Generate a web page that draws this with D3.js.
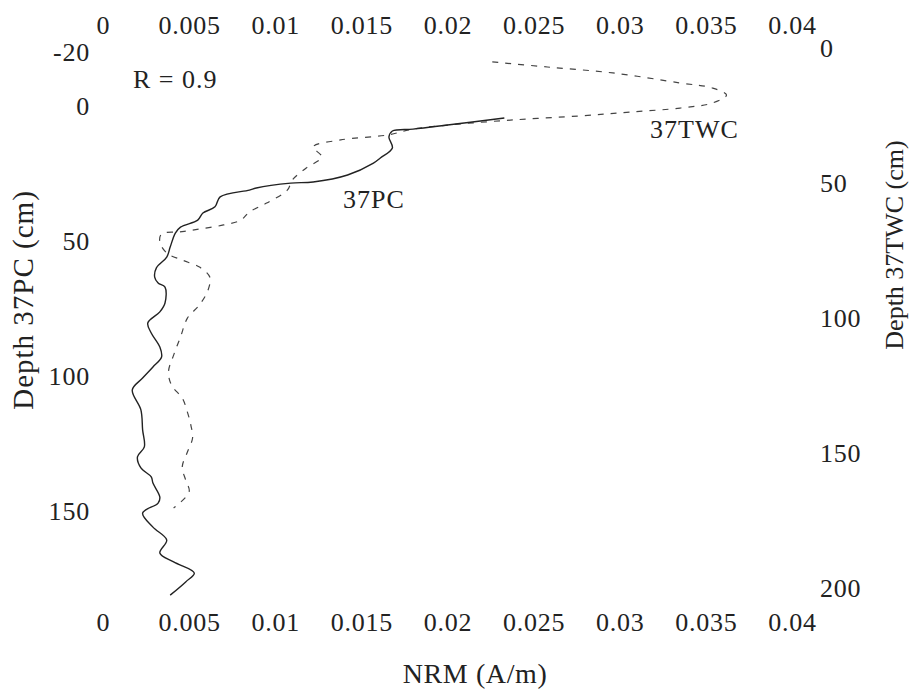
<!DOCTYPE html>
<html>
<head>
<meta charset="utf-8">
<script src="https://cdn.jsdelivr.net/npm/d3@7/dist/d3.min.js"></script>
<style>
  body { margin: 0; background: #fff; }
  svg { display: block; }
  text { font-family: "Liberation Serif", "Times New Roman", serif; fill: #222; }
</style>
</head>
<body>
<svg></svg>
<script>
var svg_width = 911;
var svg_height = 693;

// NRM (A/m) tick values, shared by the top and bottom axes
var nrm_ticks = [0, 0.005, 0.01, 0.015, 0.02, 0.025, 0.03, 0.035, 0.04];
var pc_depth_ticks = [-20, 0, 50, 100, 150];
var twc_depth_ticks = [0, 50, 100, 150, 200];

// 37PC core (solid line), depth on the left axis
var pc_depth = [5.2, 7.8, 9.3, 10.0, 12.2, 16.3, 20.0, 21.9, 26.3, 28.9, 29.3, 31.1, 31.9,
  34.4, 38.1, 40.4, 43.0, 45.6, 47.8, 53.0, 56.7, 60.7, 64.1, 66.3, 67.8, 73.7, 77.0,
  81.1, 84.8, 90.0, 93.7, 97.4, 101.5, 105.9, 113.3, 120.7, 127.0, 130.7, 134.8, 138.1,
  140.4, 145.6, 147.8, 151.5, 156.7, 161.5, 166.3, 169.6, 173.7, 177.0, 181.9];
var pc_nrm = [0.0233, 0.0200, 0.0180, 0.0168, 0.0166, 0.0168, 0.0161, 0.0157, 0.0142,
  0.0122, 0.0109, 0.0089, 0.0085, 0.0068, 0.0065, 0.0058, 0.0055, 0.0045, 0.0042,
  0.0039, 0.0037, 0.0031, 0.0030, 0.0032, 0.0036, 0.0036, 0.0033, 0.0026, 0.0028,
  0.0033, 0.0034, 0.0029, 0.0023, 0.0017, 0.0022, 0.0023, 0.0024, 0.0020, 0.0022,
  0.0028, 0.0029, 0.0033, 0.0032, 0.0023, 0.0029, 0.0037, 0.0033, 0.0041, 0.0053,
  0.0048, 0.0039];

// 37TWC core (dashed line), depth on the right axis
var twc_depth = [4.4, 6.3, 8.5, 12.2, 14.1, 16.7, 19.6, 21.5, 23.0, 24.4, 25.9, 27.8,
  29.3, 31.5, 33.3, 35.9, 39.6, 43.7, 48.1, 51.9, 56.7, 60.0, 63.0, 64.8, 66.7, 67.4,
  68.1, 71.1, 75.2, 77.8, 80.4, 84.1, 88.9, 94.4, 99.3, 106.3, 113.0, 119.3, 124.4,
  128.9, 134.1, 138.9, 143.7, 148.9, 154.4, 159.3, 163.7, 169.6];
var twc_nrm = [0.0226, 0.0258, 0.0296, 0.0335, 0.0354, 0.0362, 0.0354, 0.0335, 0.0306,
  0.0277, 0.0238, 0.0200, 0.0180, 0.0165, 0.0138, 0.0122, 0.0127, 0.0118, 0.0110,
  0.0107, 0.0095, 0.0085, 0.0080, 0.0070, 0.0052, 0.0044, 0.0034, 0.0033, 0.0037,
  0.0046, 0.0056, 0.0062, 0.0061, 0.0056, 0.0049, 0.0045, 0.0041, 0.0038, 0.0040,
  0.0046, 0.0049, 0.0051, 0.0052, 0.0049, 0.0046, 0.0048, 0.0050, 0.0041];

var plot_left = 103, plot_right = 792, plot_top = 50, plot_bottom = 590;

var xScale = d3.scaleLinear().domain([0, 0.04]).range([plot_left, plot_right]);
var yLeft = d3.scaleLinear().domain([-20, 180]).range([plot_top, plot_bottom]);
var yRight = d3.scaleLinear().domain([0, 200]).range([plot_top, plot_bottom]);

var svg = d3.select('svg')
  .attr('width', svg_width)
  .attr('height', svg_height);

// strip the axis down to its labels, like the scanned figure
function style_axis(g)  {
  g.select('.domain').remove();
  g.selectAll('.tick line').remove();
  g.selectAll('text')
    .attr('fill', '#222')
    .style('font-family', '"Liberation Serif", serif')
    .style('font-size', '26px')
    .style('letter-spacing', '0.8px');
}

var fmt = function(d)  {return(String(d));};

// top and bottom NRM axes
svg.append('g')
  .attr('transform', 'translate(0,25)')
  .call(d3.axisBottom(xScale).tickValues(nrm_ticks).tickSize(0).tickPadding(0).tickFormat(fmt))
  .call(style_axis)
  .selectAll('text').attr('dy', '0.35em');

svg.append('g')
  .attr('transform', 'translate(0,622)')
  .call(d3.axisBottom(xScale).tickValues(nrm_ticks).tickSize(0).tickPadding(0).tickFormat(fmt))
  .call(style_axis)
  .selectAll('text').attr('dy', '0.35em');

// left depth axis (37PC)
svg.append('g')
  .attr('transform', 'translate(90,2)')
  .call(d3.axisLeft(yLeft).tickValues(pc_depth_ticks).tickSize(0).tickPadding(0).tickFormat(fmt))
  .call(style_axis);

// right depth axis (37TWC), labels are left aligned
svg.append('g')
  .attr('transform', 'translate(820,-2)')
  .call(d3.axisRight(yRight).tickValues(twc_depth_ticks).tickSize(0).tickPadding(0).tickFormat(fmt))
  .call(style_axis);

// axis titles
svg.append('text')
  .attr('transform', 'translate(33,300) rotate(-90)')
  .attr('text-anchor', 'middle')
  .style('font-size', '29px')
  .style('letter-spacing', '1px')
  .text('Depth 37PC (cm)');

svg.append('text')
  .attr('transform', 'translate(903,245) rotate(-90)')
  .attr('text-anchor', 'middle')
  .style('font-size', '26px')
  .text('Depth 37TWC (cm)');

svg.append('text')
  .attr('x', 475)
  .attr('y', 683)
  .attr('text-anchor', 'middle')
  .style('font-size', '28px')
  .style('letter-spacing', '0.6px')
  .text('NRM (A/m)');

// the two profiles
var pc_line = d3.line()
  .x(function(d,i)  {return(xScale(pc_nrm[i]));})
  .y(function(d)  {return(yLeft(d));})
  .curve(d3.curveCatmullRom);

var twc_line = d3.line()
  .x(function(d,i)  {return(xScale(twc_nrm[i]));})
  .y(function(d)  {return(yRight(d));})
  .curve(d3.curveCatmullRom);

svg.append('path')
  .attr('d', twc_line(twc_depth))
  .attr('fill', 'none')
  .attr('stroke', '#444')
  .attr('stroke-width', 1.2)
  .attr('stroke-dasharray', '6,7');

svg.append('path')
  .attr('d', pc_line(pc_depth))
  .attr('fill', 'none')
  .attr('stroke', '#222')
  .attr('stroke-width', 1.4);

// labels in the plot
var notes = svg.append('g')
  .style('font-size', '26px')
  .style('letter-spacing', '1px');
notes.append('text').attr('x', 133).attr('y', 88).text('R = 0.9');
notes.append('text').attr('x', 343).attr('y', 208).text('37PC');
notes.append('text').attr('x', 650).attr('y', 138).text('37TWC');
</script>
</body>
</html>
